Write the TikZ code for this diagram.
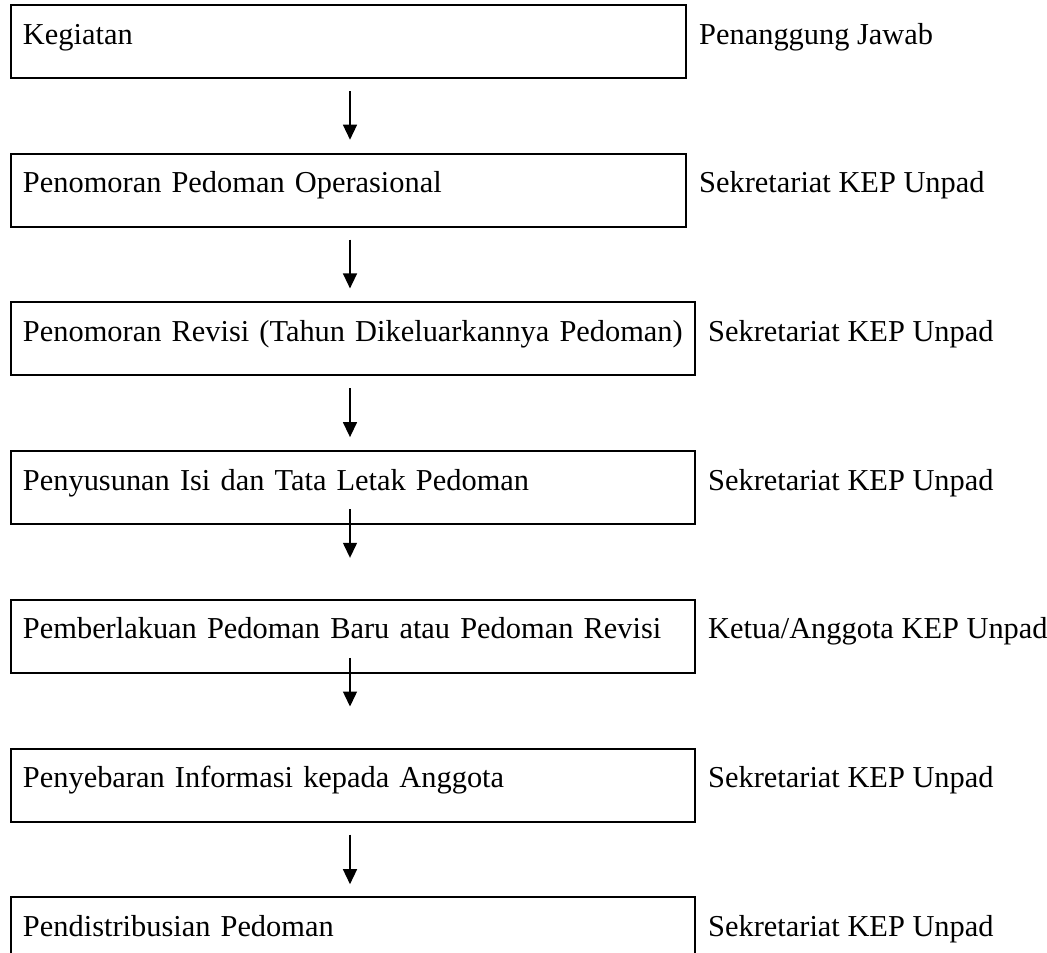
\documentclass[tikz,border=0pt]{standalone}
\usepackage{fontspec}
\setmainfont{Liberation Serif}
\usepackage{xcolor}
\usepackage{tikz}
\usetikzlibrary{positioning,arrows.meta}
\tikzset{
  actbox/.style={rectangle,draw=black,line width=2pt,anchor=north west,
    text width=660pt,align=left,text height=39pt,text depth=34pt,
    inner ysep=0pt,inner xsep=12pt,font=\fontsize{30.4}{34}\selectfont},
  pjlabel/.style={anchor=base west,inner sep=0pt,font=\fontsize{30.4}{34}\selectfont},
  fl/.style={-{Triangle[length=15pt,width=14pt]},draw=black,line width=1.4pt},
}

\begin{document}
\begin{tikzpicture}[x=1pt,y=-1pt]
  \useasboundingbox (0,0) rectangle (1047,953);
  \coordinate (ax) at (350,0);
  \node[actbox,text width=651pt] (b1) at (10,4) {Kegiatan};
  \node[actbox,text width=651pt,below=73.7pt of b1.south west,anchor=north west] (b2)
    {Penomoran Pedoman Operasional};
  \node[actbox,below=73.7pt of b2.south west,anchor=north west] (b3)
    {Penomoran Revisi (Tahun Dikeluarkannya Pedoman)};
  \node[actbox,below=73.7pt of b3.south west,anchor=north west] (b4)
    {Penyusunan Isi dan Tata Letak Pedoman};
  \node[actbox,below=73.7pt of b4.south west,anchor=north west] (b5)
    {Pemberlakuan Pedoman Baru atau Pedoman Revisi};
  \node[actbox,below=73.7pt of b5.south west,anchor=north west] (b6)
    {Penyebaran Informasi kepada Anggota};
  \node[actbox,below=73.7pt of b6.south west,anchor=north west] (b7)
    {Pendistribusian Pedoman};
  % penanggung jawab
  \node[pjlabel,right=12pt of b1.base east,anchor=base west] (p1) {Penanggung Jawab};
  \node[pjlabel,right=12pt of b2.base east,anchor=base west] (p2) {Sekretariat KEP Unpad};
  \node[pjlabel,right=12pt of b3.base east,anchor=base west] (p3) {Sekretariat KEP Unpad};
  \node[pjlabel,right=12pt of b4.base east,anchor=base west] (p4) {Sekretariat KEP Unpad};
  \node[pjlabel,right=12pt of b5.base east,anchor=base west] (p5) {Ketua/Anggota KEP Unpad};
  \node[pjlabel,right=12pt of b6.base east,anchor=base west] (p6) {Sekretariat KEP Unpad};
  \node[pjlabel,right=12pt of b7.base east,anchor=base west] (p7) {Sekretariat KEP Unpad};
  % alur
  \draw[fl,shorten <=12pt,shorten >=13pt] (b1.south -| ax) -- (b2.north -| ax);
  \draw[fl,shorten <=12pt,shorten >=13pt] (b2.south -| ax) -- (b3.north -| ax);
  \draw[fl,shorten <=12pt,shorten >=13pt] (b3.south -| ax) -- (b4.north -| ax);
  \draw[fl,shorten <=-16pt,shorten >=41pt] (b4.south -| ax) -- (b5.north -| ax);
  \draw[fl,shorten <=-16pt,shorten >=41pt] (b5.south -| ax) -- (b6.north -| ax);
  \draw[fl,shorten <=12pt,shorten >=12pt] (b6.south -| ax) -- (b7.north -| ax);
\end{tikzpicture}
\end{document}
